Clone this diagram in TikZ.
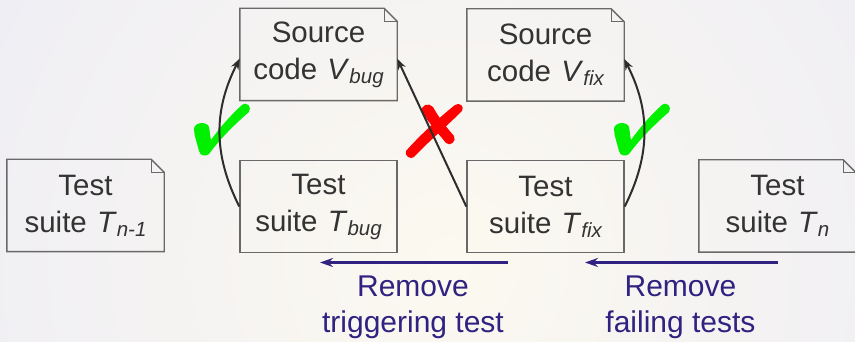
\documentclass[tikz,border=0pt]{standalone}
\usepackage{fontspec}
\setmainfont{Liberation Sans}
\usetikzlibrary{arrows.meta}
\definecolor{bgin}{RGB}{252,249,240}
\definecolor{bgout}{RGB}{239,238,244}
\definecolor{boxgray}{RGB}{105,105,105}
\definecolor{txtgray}{RGB}{51,51,51}
\definecolor{linegray}{RGB}{45,45,45}
\definecolor{rmblue}{RGB}{48,34,128}
\definecolor{okgreen}{RGB}{0,240,0}
\definecolor{badred}{RGB}{255,0,0}
\newcommand\sbt[1]{\raisebox{-4pt}{\fontsize{20.5}{20.5}\selectfont\itshape #1}}
\newcommand\vsp{\ \hspace{2pt}}
\newcommand\docbox[1]{%
  \draw[boxline] (#1.south west) -- (#1.north west) -- ([xshift=-13pt]#1.north east)
    -- ([yshift=-13pt]#1.north east) -- (#1.south east) -- cycle;
  \draw[boxline] ([xshift=-13pt]#1.north east) |- ([yshift=-13pt]#1.north east);}
\tikzset{
  boxline/.style={draw=boxgray, line width=1.4pt, line join=miter},
  docnode/.style={minimum width=157pt, minimum height=92pt, inner sep=0pt,
    align=center, text=txtgray, font=\fontsize{29.5pt}{37pt}\selectfont},
  plainnode/.style={docnode, boxline},
  conn/.style={draw=linegray, line width=2pt, -{Stealth[length=11pt,width=8pt]}},
  rmarrow/.style={draw=rmblue, line width=2.8pt, -{Stealth[length=13pt,width=9pt]}},
  rmlabel/.style={align=center, text=rmblue, inner sep=0pt, font=\fontsize{30pt}{36pt}\selectfont},
  chk/.pic={\fill[okgreen] (-3,-2) .. controls (-5,-10) and (-8,-18) .. (-8,-24)
      .. controls (-8,-31) and (5,-32) .. (7,-26) .. controls (8,-21) and (8,-17) .. (9,-13)
      .. controls (19,-27) and (30,-39) .. (40,-48) .. controls (45,-52) and (50,-46) .. (47,-41)
      .. controls (33,-29) and (17,-13) .. (7,1) .. controls (4,4) and (-2,3) .. (-3,-2) -- cycle;}
}
\begin{document}
\begin{tikzpicture}[x=1pt,y=-1pt]
\useasboundingbox (0,0) rectangle (855,342);
\begin{scope}
  \clip (0,0) rectangle (855,342);
  \shade[inner color=bgin, outer color=bgout] (450,260) circle (520);
\end{scope}
% boxes
\node[docnode] (vbug) at (318.5,54.5) {Source\\code\vsp\textit{V}\sbt{bug}};
\node[docnode] (vfix) at (545.5,55) {Source\\code\vsp\textit{V}\sbt{fix}};
\node[docnode] (tn1) at (85.5,205.5) {Test\\suite\vsp\textit{T}\sbt{n-1}};
\node[plainnode] (tbug) at (318.5,206.5) {Test\\suite\vsp\textit{T}\sbt{bug}};
\node[plainnode] (tfix) at (545.5,206.5) {Test\\suite\vsp\textit{T}\sbt{fix}};
\node[docnode] (tn) at (777.5,206) {Test\\suite\vsp\textit{T}\sbt{n}};
\docbox{vbug}
\docbox{vfix}
\docbox{tn1}
\docbox{tn}
% marks
\pic at (202,153) {chk};
\pic at (622,153) {chk};
\fill[badred] (406,151) .. controls (420,135) and (440,117) .. (455,105)
  .. controls (459,102) and (465,106) .. (462,111) .. controls (448,125) and (428,142) .. (414,157)
  .. controls (411,160) and (404,156) .. (406,151) -- cycle;
\fill[badred] (422,112) .. controls (420,105) and (429,102) .. (433,107)
  .. controls (439,118) and (447,128) .. (454,136) .. controls (457,141) and (450,147) .. (446,143)
  .. controls (438,133) and (428,122) .. (422,112) -- cycle;
% connectors
\draw[conn] (tbug.west) to[bend left=27] ([yshift=-4pt]vbug.west);
\draw[conn] (tfix.west) -- ([yshift=-4pt]vbug.east);
\draw[conn] (tfix.east) to[bend right=27] ([yshift=-4pt]vfix.east);
% removal arrows
\coordinate (r1s) at (508,262.5);
\coordinate (r1e) at (320,262.5);
\coordinate (r2s) at (778,262.5);
\coordinate (r2e) at (585,262.5);
\draw[rmarrow] (r1s) -- (r1e);
\draw[rmarrow] (r2s) -- (r2e);
\node[rmlabel] (lab1) at (413,307) {Remove\\triggering test};
\node[rmlabel] (lab2) at (680.5,307) {Remove\\failing tests};
\end{tikzpicture}
\end{document}
